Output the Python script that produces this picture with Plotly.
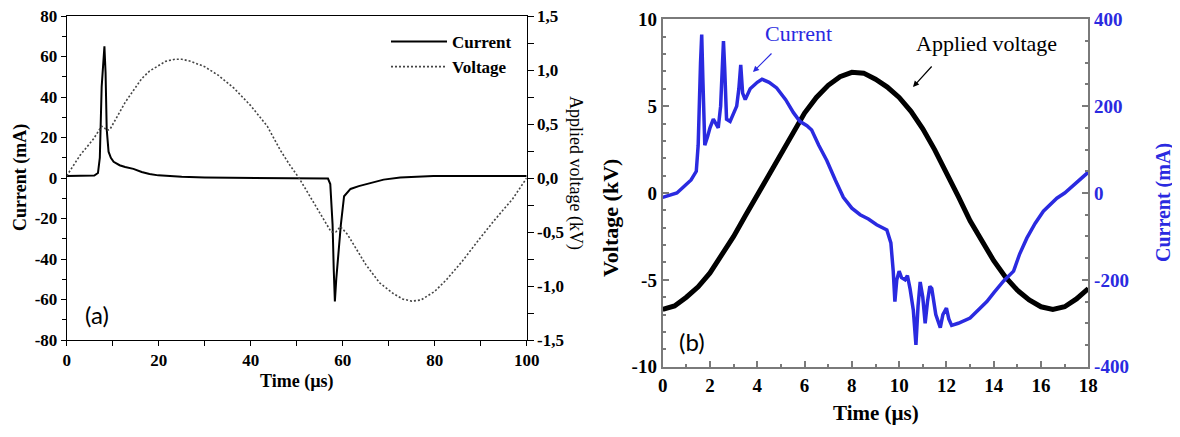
import plotly.graph_objects as go

# The page body adds an 8px margin, so the figure is sized to fit inside the window
OFF = 8
W, H = 1180 - OFF, 437 - 2 * OFF

# ---------------- Panel (a) data ----------------
t_a_current = [0, 3, 6, 6.8, 7.2, 7.6, 7.9, 8.2, 8.45, 8.7, 9.1, 9.6, 10.2, 11.5, 12.7,
               14.5, 16.3, 18, 19.9, 22, 25, 30, 40, 50, 56.8, 57.3, 57.8, 58.05, 58.3,
               58.6, 59.0, 59.6, 60.3, 61.7, 63.5, 65.3, 67, 68.9, 72.5, 79.7, 90, 100]
current_a = [1, 1, 1.2, 2.5, 10, 45, 58, 65, 52, 24, 13, 10, 8, 6.3, 5.4,
             4.5, 3, 2, 1.3, 1, 0.6, 0.3, 0.1, 0, -0.3, -3, -23, -45, -61,
             -50, -38, -23, -9, -5.4, -4, -3, -2, -0.8, 0.3, 1, 1, 1]

t_a_voltage = [0, 2.9, 5.8, 7.6, 8.3, 8.7, 9.4, 11, 12.7, 14.5, 16.3, 18, 19.9, 21.5,
               23.5, 25, 27, 30, 33, 36.4, 40, 43.6, 46.4, 48.5, 50.5, 53, 55.5, 57.5,
               58.5, 59.5, 61, 63, 65, 68, 71, 73, 75, 77, 80, 82.6, 86, 89.8, 93, 97, 100]
voltage_a = [0.02, 0.21, 0.36, 0.48, 0.46, 0.44, 0.45, 0.57, 0.70, 0.81, 0.92, 0.99, 1.04, 1.08,
             1.10, 1.10, 1.08, 1.03, 0.95, 0.83, 0.67, 0.48, 0.26, 0.12, 0.0, -0.18, -0.36, -0.50,
             -0.50, -0.45, -0.52, -0.66, -0.80, -0.97, -1.07, -1.12, -1.14, -1.13, -1.05, -0.94,
             -0.77, -0.56, -0.39, -0.19, 0.0]

a_x_ticks = [0, 20, 40, 60, 80, 100]
a_x_labels = ["0", "20", "40", "60", "80", "100"]
a_current_ticks = [-80, -60, -40, -20, 0, 20, 40, 60, 80]
a_current_labels = ["-80", "-60", "-40", "-20", "0", "20", "40", "60", "80"]
a_voltage_ticks = [-1.5, -1.0, -0.5, 0.0, 0.5, 1.0, 1.5]
a_voltage_labels = ["-1,5", "-1,0", "-0,5", "0,0", "0,5", "1,0", "1,5"]

# ---------------- Panel (b) data ----------------
t_b_voltage = [0, 0.5, 1, 1.5, 2, 2.5, 3, 3.5, 4, 4.5, 5, 5.5, 6, 6.5, 7, 7.5, 8, 8.5, 9,
               9.5, 10, 10.5, 11, 11.5, 12, 12.5, 13, 13.5, 14, 14.5, 15, 15.5, 16, 16.5,
               17, 17.5, 18]
voltage_b = [-6.7, -6.5, -6.0, -5.4, -4.6, -3.6, -2.5, -1.3, -0.1, 1.1, 2.3, 3.4, 4.6, 5.5,
             6.2, 6.7, 6.95, 6.9, 6.55, 6.1, 5.5, 4.7, 3.7, 2.5, 1.2, -0.2, -1.6, -2.8, -3.9,
             -4.85, -5.6, -6.15, -6.55, -6.7, -6.55, -6.1, -5.5]

t_b_current = [0, 0.3, 0.6, 0.9, 1.2, 1.42, 1.5, 1.6, 1.65, 1.7, 1.78, 1.9, 2.0, 2.14, 2.25,
               2.35, 2.45, 2.52, 2.57, 2.62, 2.7, 2.85, 3.0, 3.13, 3.22, 3.3, 3.38, 3.49, 3.7,
               4.0, 4.2, 4.5, 4.82, 5.2, 5.53, 5.8, 6.1, 6.3, 6.6, 6.94, 7.3, 7.64, 8.0, 8.35,
               8.7, 9.05, 9.48, 9.65, 9.75, 9.82, 9.9, 10.0, 10.1, 10.25, 10.35, 10.46, 10.6,
               10.71, 10.8, 10.89, 11.0, 11.1, 11.2, 11.3, 11.38, 11.55, 11.74, 11.85, 12.0,
               12.1, 12.22, 12.5, 13.0, 13.4, 13.71, 14.0, 14.41, 14.84, 15.1, 15.4, 15.75,
               16.1, 16.4, 16.67, 17.0, 17.24, 17.6, 18]
current_b = [-10, -5, 0, 15, 30, 50, 110, 300, 365, 260, 110, 130, 150, 170, 160,
             150, 200, 300, 350, 290, 170, 165, 185, 200, 240, 295, 230, 215, 240,
             255, 262, 255, 242, 215, 185, 165, 155, 145, 110, 75, 30, -10, -35, -50,
             -60, -73, -85, -115, -180, -250, -200, -180, -195, -200, -190, -220, -270,
             -350, -260, -205, -240, -300, -250, -215, -220, -280, -310, -280, -265,
             -290, -305, -300, -288, -265, -250, -230, -203, -180, -140, -104, -70,
             -42, -25, -12, 0, 12, 28, 48]

b_x_ticks = [0, 2, 4, 6, 8, 10, 12, 14, 16, 18]
b_x_labels = ["0", "2", "4", "6", "8", "10", "12", "14", "16", "18"]
b_voltage_ticks = [-10, -5, 0, 5, 10]
b_voltage_labels = ["-10", "-5", "0", "5", "10"]
b_current_ticks = [-400, -200, 0, 200, 400]
b_current_labels = ["-400", "-200", "0", "200", "400"]

# ---------------- styling helpers ----------------
SERIF = "Liberation Serif"
BLUE = "#2a2ae0"
GREY = "#7a7a7a"


def fx(p):
    """window pixel x -> paper fraction"""
    return (p - OFF) / W


def fy(p):
    """window pixel y -> paper fraction"""
    return 1 - (p - OFF) / H


fig = go.Figure()

fig.add_trace(go.Scatter(x=t_a_current, y=current_a, mode="lines", name="Current",
                         line=dict(color="black", width=2), xaxis="x", yaxis="y"))
fig.add_trace(go.Scatter(x=t_a_voltage, y=voltage_a, mode="lines", name="Voltage",
                         line=dict(color="#444444", width=1.6, dash="2px,2px"),
                         xaxis="x", yaxis="y2"))
fig.add_trace(go.Scatter(x=t_b_current, y=current_b, mode="lines", name="Current (b)",
                         line=dict(color=BLUE, width=3.5), xaxis="x2", yaxis="y4",
                         showlegend=False))
fig.add_trace(go.Scatter(x=t_b_voltage, y=voltage_b, mode="lines", name="Applied voltage",
                         line=dict(color="black", width=5), xaxis="x2", yaxis="y3",
                         showlegend=False))

tick_a = dict(family=SERIF, size=17, color="black", weight="bold")
tick_b = dict(family=SERIF, size=19, color="black", weight="bold")

fig.update_layout(
    width=W, height=H, autosize=False,
    margin=dict(l=0, r=0, t=0, b=0),
    paper_bgcolor="white", plot_bgcolor="white",
    xaxis=dict(domain=[fx(66.7), fx(526.7)], range=[0, 100], anchor="y", automargin=False,
               tickmode="array", tickvals=a_x_ticks, ticktext=a_x_labels,
               ticks="outside", ticklen=5, tickcolor="black", tickwidth=1,
               minor=dict(dtick=10, tick0=0, ticks="outside", ticklen=5, tickcolor="black"),
               showline=True, linecolor="black", linewidth=1, mirror=True,
               showgrid=False, zeroline=False, tickfont=tick_a, ticklabeloverflow="allow"),
    yaxis=dict(domain=[fy(340), fy(16)], range=[-80, 80], anchor="x", automargin=False,
               tickmode="array", tickvals=a_current_ticks, ticktext=a_current_labels,
               ticks="outside", ticklen=5, tickcolor="black",
               minor=dict(dtick=10, tick0=0, ticks="outside", ticklen=4, tickcolor="black"),
               showline=True, linecolor="black", linewidth=1, mirror=True,
               showgrid=False, zeroline=False, tickfont=tick_a, ticklabeloverflow="allow"),
    yaxis2=dict(range=[-1.5, 1.5], overlaying="y", side="right", anchor="x", automargin=False,
                tickmode="array", tickvals=a_voltage_ticks, ticktext=a_voltage_labels,
                ticks="outside", ticklen=6, tickcolor="black",
                minor=dict(dtick=0.25, tick0=0, ticks="outside", ticklen=6, tickcolor="black"),
                showline=True, linecolor="black", linewidth=1,
                showgrid=False, zeroline=False, tickfont=tick_a, ticklabeloverflow="allow"),
    xaxis2=dict(domain=[fx(662.7), fx(1088.3)], range=[0, 18], anchor="y3", automargin=False,
                tickmode="array", tickvals=b_x_ticks, ticktext=b_x_labels,
                ticks="inside", ticklen=6, tickcolor=GREY, tickwidth=1.5,
                minor=dict(dtick=1, tick0=0, ticks="inside", ticklen=3, tickcolor=GREY),
                showline=True, linecolor=GREY, linewidth=2, mirror=True,
                showgrid=False, zeroline=False, tickfont=tick_b, ticklabeloverflow="allow"),
    yaxis3=dict(domain=[fy(366.7), fy(19.3)], range=[-10, 10], anchor="x2", automargin=False,
                tickmode="array", tickvals=b_voltage_ticks, ticktext=b_voltage_labels,
                ticks="inside", ticklen=6, tickcolor=GREY, tickwidth=1.5,
                minor=dict(dtick=1, tick0=0, ticks="inside", ticklen=3, tickcolor=GREY),
                showline=True, linecolor=GREY, linewidth=2,
                showgrid=False, zeroline=False, tickfont=tick_b, ticklabeloverflow="allow"),
    yaxis4=dict(range=[-400, 400], overlaying="y3", side="right", anchor="x2", automargin=False,
                tickmode="array", tickvals=b_current_ticks, ticktext=b_current_labels,
                ticks="inside", ticklen=6, tickcolor=GREY, tickwidth=1.5,
                minor=dict(dtick=50, tick0=0, ticks="inside", ticklen=3, tickcolor=GREY),
                showline=True, linecolor=GREY, linewidth=2,
                showgrid=False, zeroline=False, ticklabeloverflow="allow",
                tickfont=dict(family=SERIF, size=19, color=BLUE, weight="bold")),
    legend=dict(x=fx(386), y=fy(24), xanchor="left", yanchor="top",
                bgcolor="rgba(0,0,0,0)", itemwidth=56, tracegroupgap=0,
                font=dict(family=SERIF, size=17, color="black", weight="bold")),
    showlegend=True,
)

ann = []


def text(x, y, s, size, color="black", angle=0, family=SERIF, weight="normal"):
    ann.append(dict(x=fx(x), y=fy(y), xref="paper", yref="paper", text=s,
                    showarrow=False, textangle=angle, xanchor="center", yanchor="middle",
                    font=dict(family=family, size=size, color=color, weight=weight)))


def arrow(x0, y0, x1, y1, color):
    ann.append(dict(x=fx(x1), y=fy(y1), xref="paper", yref="paper", text="",
                    showarrow=True, ax=x0 - x1, ay=y0 - y1, axref="pixel", ayref="pixel",
                    arrowhead=2, arrowsize=1, arrowwidth=1.2, arrowcolor=color))


text(20, 178, "Current (mA)", 18, angle=-90, weight="bold")
text(576, 173, "Applied voltage (kV)", 18, angle=90)
text(297, 381, "Time (µs)", 18, weight="bold")
text(97, 314, "(a)", 24, family="Lato")

text(610, 218, "Voltage (kV)", 22, angle=-90, weight="bold")
text(1163, 203, "Current (mA)", 20, color=BLUE, angle=-90, weight="bold")
text(876, 413, "Time (µs)", 21, weight="bold")
text(692, 341, "(b)", 24, family="Lato")

text(798, 34, "Current", 22, color=BLUE)
arrow(773, 52, 753, 72, BLUE)
text(986, 44, "Applied voltage", 22)
arrow(933, 65, 913, 87, "black")

fig.update_layout(annotations=ann)

fig.write_html("out.html")
